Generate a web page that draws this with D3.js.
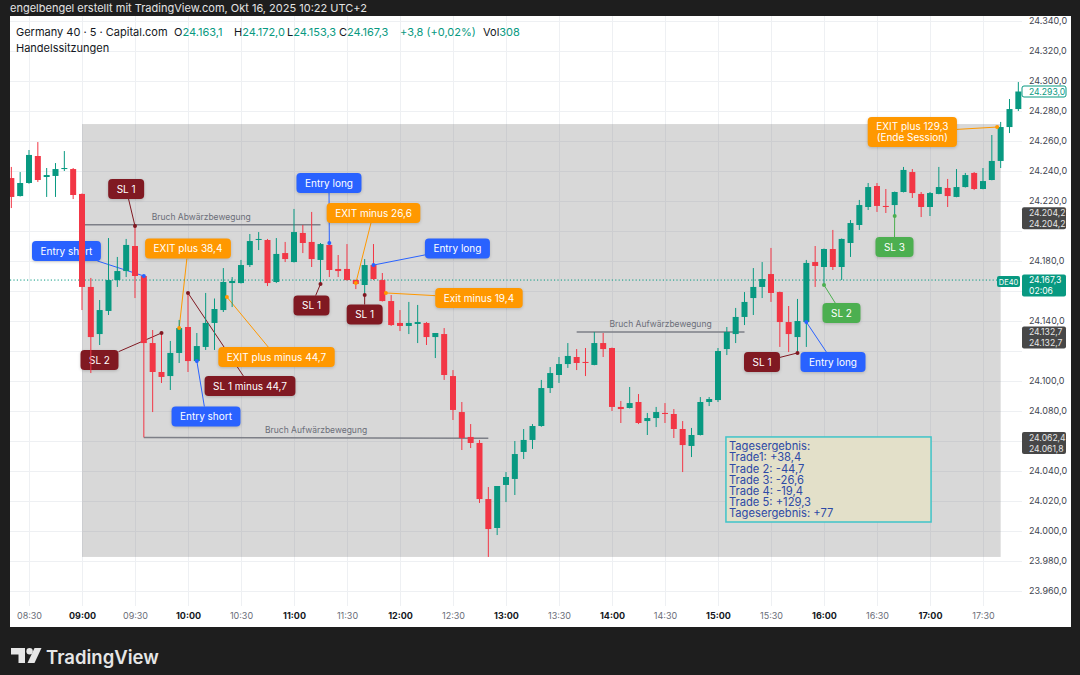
<!DOCTYPE html>
<html><head><meta charset="utf-8">
<script src="https://cdn.jsdelivr.net/npm/d3@7"></script>
<style>
html,body{margin:0;padding:0;background:#1e1e1e;}
svg{display:block;}
text{font-family:Inter,"Noto Sans",Roboto,sans-serif;}
</style></head><body>
<svg id="c" width="1080" height="675"></svg>
<script>
// ---------------- DATA ----------------
const times = ["08:20","08:25","08:30","08:35","08:40","08:45","08:50","08:55",
"09:00","09:05","09:10","09:15","09:20","09:25","09:30","09:35","09:40","09:45","09:50","09:55",
"10:00","10:05","10:10","10:15","10:20","10:25","10:30","10:35","10:40","10:45","10:50","10:55",
"11:00","11:05","11:10","11:15","11:20","11:25","11:30","11:35","11:40","11:45","11:50","11:55",
"12:00","12:05","12:10","12:15","12:20","12:25","12:30","12:35","12:40","12:45","12:50","12:55",
"13:00","13:05","13:10","13:15","13:20","13:25","13:30","13:35","13:40","13:45","13:50","13:55",
"14:00","14:05","14:10","14:15","14:20","14:25","14:30","14:35","14:40","14:45","14:50","14:55",
"15:00","15:05","15:10","15:15","15:20","15:25","15:30","15:35","15:40","15:45","15:50","15:55",
"16:00","16:05","16:10","16:15","16:20","16:25","16:30","16:35","16:40","16:45","16:50","16:55",
"17:00","17:05","17:10","17:15","17:20","17:25","17:30","17:35","17:40","17:45","17:50"];

const open = [24235.3,24223.3,24232.0,24250.0,24236.0,24236.7,24241.3,24241.3,
24224.7,24162.7,24131.3,24146.7,24167.3,24173.3,24190.0,24170.0,24125.3,24106.0,24103.3,24118.7,
24136.0,24113.3,24122.7,24138.7,24147.3,24165.3,24165.3,24177.3,24194.0,24194.0,24166.0,24185.3,
24179.3,24198.7,24192.7,24180.7,24190.7,24174.7,24174.7,24167.3,24164.0,24177.3,24167.3,24153.3,
24138.7,24136.7,24138.0,24138.7,24129.3,24131.3,24103.3,24079.3,24062.7,24058.7,24021.3,24002.0,
24030.7,24034.7,24052.7,24060.7,24070.0,24095.3,24104.0,24111.3,24116.0,24112.7,24110.7,24125.3,
24122.0,24082.7,24082.0,24086.0,24073.3,24075.3,24078.7,24078.0,24068.0,24056.7,24064.0,24086.0,
24087.3,24121.3,24131.3,24142.7,24155.3,24162.7,24171.3,24159.3,24139.3,24129.3,24139.3,24179.3,
24176.0,24188.0,24176.0,24192.0,24204.0,24216.0,24230.0,24216.7,24217.3,24226.0,24239.3,24224.7,
24216.0,24224.7,24228.7,24222.7,24229.3,24238.7,24228.0,24234.0,24246.7,24269.3,24281.3];

const high = [24242.7,24239.3,24254.0,24259.3,24242.0,24245.3,24253.3,24242.0,
24225.0,24168.7,24154.0,24195.3,24182.7,24194.7,24203.3,24170.5,24134.0,24132.0,24126.7,24140.7,
24158.7,24132.0,24158.7,24155.0,24175.3,24169.3,24180.7,24198.0,24199.3,24194.7,24195.3,24192.7,
24214.7,24204.0,24212.7,24192.0,24192.0,24184.0,24191.3,24167.6,24181.3,24191.3,24172.0,24157.3,
24147.3,24152.7,24150.7,24139.3,24132.0,24135.3,24107.3,24086.0,24071.3,24060.7,24029.3,24030.0,
24039.3,24060.0,24068.0,24071.3,24100.7,24109.3,24116.0,24125.3,24121.3,24122.0,24132.7,24132.0,
24122.3,24086.7,24096.0,24091.3,24078.7,24082.7,24085.3,24081.3,24073.3,24068.7,24089.3,24089.3,
24122.0,24136.0,24148.7,24159.3,24175.3,24179.3,24188.7,24159.6,24150.0,24154.7,24180.7,24190.0,
24188.3,24200.7,24195.0,24207.3,24220.7,24232.0,24232.0,24228.0,24226.3,24242.7,24241.3,24226.0,
24226.0,24242.7,24234.7,24241.3,24238.7,24239.3,24242.0,24264.0,24272.7,24288.0,24299.3];

const low = [24215.3,24223.0,24231.5,24232.7,24222.7,24222.7,24240.0,24221.3,
24147.3,24105.3,24124.0,24144.0,24162.7,24169.3,24155.3,24062.4,24079.3,24098.7,24094.0,24112.0,
24106.0,24112.0,24120.7,24120.7,24146.0,24149.3,24165.0,24176.0,24187.3,24163.3,24165.3,24179.3,
24179.0,24185.3,24176.0,24164.7,24169.3,24169.3,24167.0,24161.3,24157.3,24167.3,24153.0,24136.7,
24133.3,24131.3,24125.3,24124.0,24115.3,24100.7,24074.0,24054.0,24055.3,24018.7,23982.7,23997.3,
24019.3,24024.0,24048.0,24054.7,24069.5,24092.0,24098.7,24108.7,24107.3,24103.3,24110.5,24116.0,
24080.0,24072.0,24081.7,24071.3,24064.0,24069.3,24072.0,24062.0,24039.3,24049.3,24063.7,24083.3,
24086.0,24117.3,24125.3,24137.3,24144.0,24155.3,24152.7,24122.7,24119.3,24118.7,24122.7,24162.7,
24164.0,24174.0,24167.3,24182.7,24200.7,24214.0,24212.7,24212.0,24210.0,24225.7,24222.0,24209.3,
24210.0,24224.5,24216.0,24222.5,24229.0,24227.3,24227.8,24233.8,24242.0,24265.3,24280.0];

const close = [24222.7,24232.0,24250.7,24234.0,24237.3,24241.3,24242.0,24224.0,
24162.7,24129.3,24147.3,24167.3,24173.3,24190.7,24170.0,24125.3,24106.0,24102.7,24118.7,24135.3,
24113.3,24123.3,24138.7,24148.0,24166.0,24166.7,24177.3,24193.3,24194.7,24165.3,24184.7,24181.3,
24199.3,24192.0,24181.3,24191.3,24174.0,24173.3,24167.3,24164.7,24177.3,24168.0,24153.3,24137.3,
24136.7,24138.7,24139.3,24129.3,24132.0,24104.0,24080.7,24062.0,24058.7,24021.3,24001.3,24030.0,
24036.0,24051.3,24060.7,24070.0,24095.3,24105.3,24111.3,24116.7,24112.0,24112.0,24125.3,24121.3,
24082.7,24081.3,24085.3,24072.0,24075.3,24079.3,24078.0,24068.0,24057.3,24064.0,24086.0,24088.0,
24120.0,24132.7,24142.7,24152.7,24162.7,24168.0,24158.7,24139.3,24131.3,24140.0,24178.7,24176.7,
24188.0,24176.0,24194.7,24205.3,24217.3,24229.3,24216.7,24216.0,24226.0,24240.7,24225.3,24216.0,
24225.3,24229.3,24223.3,24229.3,24237.3,24228.0,24233.3,24246.7,24269.3,24281.3,24293.0];

const priceTicks = [23960,23980,24000,24020,24040,24060,24080,24100,24120,24140,24160,24180,24200,24220,24240,24260,24280,24300,24320,24340];
const timeTicks = ["08:30","09:00","09:30","10:00","10:30","11:00","11:30","12:00","12:30","13:00","13:30","14:00","14:30","15:00","15:30","16:00","16:30","17:00","17:30"];

const lastPrice = 24167.3;
const session = {start:"09:00", end:"17:40", top:24271.3, bottom:23982.7};

// horizontal trend lines (minutes from 09:00)
const hlines = [
  {t:"Bruch Abwärzbewegung",  m1:0,   m2:135, p1:24204.2, p2:24204.2},
  {t:"Bruch Aufwärzbewegung", m1:35,  m2:230, p1:24062.4, p2:24061.8},
  {t:"Bruch Aufwärzbewegung", m1:280, m2:375, p1:24132.7, p2:24132.7}
];

// callouts: box centre (bm minutes, bp price), anchor (am, ap)
const callouts = [
  {t:"SL 1", k:"sl", bm:25, bp:24228, am:30, ap:24203.3},
  {t:"Entry short", k:"entry", bm:-8.8, bp:24186.7, am:35, ap:24170.0},
  {t:"EXIT plus 38,4", k:"exit", bm:60, bp:24188.3, am:55, ap:24135.3},
  {t:"SL 2", k:"sl", bm:9.9, bp:24114, am:45, ap:24132.0},
  {t:"SL 1 minus 44,7", k:"sl", bm:95.1, bp:24096.7, am:60, ap:24158.7},
  {t:"EXIT plus minus 44,7", k:"exit", bm:110.1, bp:24116, am:82, ap:24156},
  {t:"Entry short", k:"entry", bm:70.2, bp:24076.3, am:65, ap:24113.3},
  {t:"Entry long", k:"entry", bm:139.8, bp:24232, am:140, ap:24192},
  {t:"EXIT minus 26,6", k:"exit", bm:165, bp:24212, am:155, ap:24165.3},
  {t:"SL 1", k:"sl", bm:129.9, bp:24150.3, am:135, ap:24164.7},
  {t:"SL 1", k:"sl", bm:160, bp:24144.3, am:160, ap:24157.3},
  {t:"Entry long", k:"entry", bm:212.5, bp:24188.3, am:165, ap:24177.3},
  {t:"Exit minus 19,4", k:"exit", bm:224.7, bp:24155.3, am:172, ap:24158.7},
  {t:"SL 1", k:"sl", bm:384.9, bp:24112.7, am:405, ap:24118.7},
  {t:"Entry long", k:"entry", bm:425.1, bp:24112.7, am:410, ap:24139.3},
  {t:"SL 2", k:"tp", bm:429.9, bp:24145.3, am:420, ap:24164},
  {t:"SL 3", k:"tp", bm:459.9, bp:24189.3, am:460, ap:24210},
  {t:"EXIT plus 129,3|(Ende Session)", k:"exit", bm:470, bp:24266, am:518, ap:24269.3}
];

const resultLines = ["Tagesergebnis:","Trade1: +38,4","Trade 2: -44,7","Trade 3: -26,6","Trade 4: -19,4","Trade 5: +129,3","Tagesergebnis: +77"];
const resultBox = {m1:364.5, m2:480.6, p1:24062.7, p2:24006.0};

const axisBadges = [
  {lines:["24.293,0"], p:24293.0, k:"outline"},
  {lines:["24.204,2","24.204,2"], p:24212.2, k:"dark"},
  {lines:["24.167,3","02:06"], p:24167.3, k:"green"},
  {lines:["24.132,7","24.132,7"], p:24132.7, k:"dark"},
  {lines:["24.062,4","24.061,8"], p:24062.4, k:"dark"}
];

// ---------------- STYLES ----------------
const UP="#089981", DOWN="#f23645";
const KCOL={sl:"#801922", entry:"#2962ff", exit:"#ff9800", tp:"#4caf50"};
const AXF = "Roboto,'Liberation Sans',sans-serif";

// ---------------- SCALES ----------------
const parse = s => { const [h,m]=s.split(":").map(Number); return new Date(2025,9,16,h,m); };
const x = d3.scaleTime().domain([parse("08:20"),parse("17:50")]).range([11.33,1018.33]);
const y = d3.scaleLinear().domain([23960,24340]).range([591,21]);
const base = parse("09:00");
const tx = m => x(new Date(base.getTime()+m*60000));
const loc = d3.formatLocale({decimal:",",thousands:".",grouping:[3],currency:["",""]});
const fmt = loc.format(",.1f");

const svg = d3.select("#c");
svg.append("rect").attr("width",1080).attr("height",675).attr("fill","#1e1e1e");
svg.append("rect").attr("x",10).attr("y",16).attr("width",1061).attr("height",611).attr("fill","#ffffff");

svg.append("text").attr("x",10).attr("y",12).attr("fill","#e4e4e4").attr("font-size",11)
  .text("engelbengel erstellt mit TradingView.com, Okt 16, 2025 10:22 UTC+2");

const defs = svg.append("defs");
defs.append("clipPath").attr("id","plot").append("rect").attr("x",10).attr("y",16).attr("width",1012).attr("height",590);

const plot = svg.append("g").attr("clip-path","url(#plot)");

// grid
plot.append("g").selectAll("line").data(priceTicks).join("line")
  .attr("x1",10).attr("x2",1022).attr("y1",d=>Math.round(y(d))+0.5).attr("y2",d=>Math.round(y(d))+0.5)
  .attr("stroke","#eef0f3");
plot.append("g").selectAll("line").data(timeTicks).join("line")
  .attr("y1",16).attr("y2",606).attr("x1",d=>Math.round(x(parse(d)))+0.5).attr("x2",d=>Math.round(x(parse(d)))+0.5)
  .attr("stroke","#eef0f3");

// session shading
plot.append("rect").attr("x",x(parse(session.start))).attr("y",y(session.top))
  .attr("width",x(parse(session.end))-x(parse(session.start))).attr("height",y(session.bottom)-y(session.top))
  .attr("fill","#808080").attr("fill-opacity",0.31);

// trend lines
hlines.forEach(h=>{
  plot.append("line").attr("x1",tx(h.m1)).attr("x2",tx(h.m2)).attr("y1",y(h.p1)).attr("y2",y(h.p2))
    .attr("stroke","#7d7f87").attr("stroke-width",1.5);
  plot.append("text").attr("x",(tx(h.m1)+tx(h.m2))/2).attr("y",(y(h.p1)+y(h.p2))/2-5)
    .attr("text-anchor","middle").attr("font-size",8.5).attr("fill","#6b6e78").text(h.t);
});

// result box
plot.append("rect").attr("x",tx(resultBox.m1)).attr("y",y(resultBox.p1))
  .attr("width",tx(resultBox.m2)-tx(resultBox.m1)).attr("height",y(resultBox.p2)-y(resultBox.p1))
  .attr("fill","#e3e0c9").attr("stroke","#3fc3c9").attr("stroke-width",1.5);
plot.append("g").selectAll("text").data(resultLines).join("text")
  .attr("x",tx(resultBox.m1)+3).attr("y",(d,i)=>y(resultBox.p1)+13.2+i*11.2)
  .attr("font-size",11.2).attr("fill","#2e4aa6").text(d=>d);

// callouts (boxes + connectors)
const cg = plot.append("g");
const dots = [];
callouts.forEach(c=>{
  const col = KCOL[c.k];
  const lines = c.t.split("|");
  const g = cg.append("g");
  const cx = tx(c.bm), cy = y(c.bp);
  const tt = g.selectAll("text").data(lines).join("text").attr("font-size",10).attr("fill","#ffffff")
    .attr("text-anchor","middle").text(d=>d);
  let w = 0; tt.each(function(){ w = Math.max(w,this.getComputedTextLength()); });
  const bw = w+17, bh = lines.length>1 ? 30 : 20;
  const ax = tx(c.am), ay = y(c.ap);
  const dx = ax-cx, dy = ay-cy;
  const t = Math.min(Math.abs(dx)>0? (bw/2)/Math.abs(dx):1e9, Math.abs(dy)>0?(bh/2)/Math.abs(dy):1e9);
  g.insert("line","text").attr("x1",cx+dx*t).attr("y1",cy+dy*t).attr("x2",ax).attr("y2",ay).attr("stroke",col).attr("stroke-width",1);
  g.insert("rect","text").attr("x",cx-bw/2).attr("y",cy-bh/2).attr("width",bw).attr("height",bh).attr("rx",4)
    .attr("fill",col).style("filter","drop-shadow(0px 1px 1.5px rgba(0,0,0,0.18))");
  tt.attr("x",cx).attr("y",(d,i)=>cy-bh/2+ (lines.length>1? 12.5+i*11 : 13.6));
  dots.push({x:ax,y:ay,col});
});

// last price dotted line
plot.append("line").attr("x1",10).attr("x2",997).attr("y1",y(lastPrice)).attr("y2",y(lastPrice))
  .attr("stroke",UP).attr("stroke-dasharray","1.2,2.2").attr("stroke-width",1);

// candles
const data = times.map((t,i)=>({t:parse(t),o:open[i],h:high[i],l:low[i],c:close[i]}));
const cndl = plot.append("g");
cndl.selectAll("line").data(data).join("line")
  .attr("x1",d=>x(d.t)).attr("x2",d=>x(d.t)).attr("y1",d=>y(d.h)).attr("y2",d=>y(d.l))
  .attr("stroke",d=>d.c>=d.o?UP:DOWN).attr("stroke-width",1);
cndl.selectAll("rect").data(data).join("rect")
  .attr("x",d=>x(d.t)-3).attr("width",6)
  .attr("y",d=>y(Math.max(d.o,d.c))).attr("height",d=>Math.max(1,Math.abs(y(d.o)-y(d.c))))
  .attr("fill",d=>d.c>=d.o?UP:DOWN);

// anchor dots
plot.append("g").selectAll("circle").data(dots).join("circle")
  .attr("cx",d=>d.x).attr("cy",d=>d.y).attr("r",2).attr("fill",d=>d.col);

// DE40 tag
plot.append("rect").attr("x",997).attr("y",y(lastPrice)-4).attr("width",23).attr("height",11).attr("rx",2).attr("fill",UP);
plot.append("text").attr("x",1008.5).attr("y",y(lastPrice)+4.6).attr("text-anchor","middle").attr("font-size",7.5).attr("fill","#fff").text("DE40");

// axes
const xa = svg.append("g").attr("transform","translate(0,606)")
  .call(d3.axisBottom(x).tickValues(timeTicks.map(parse)).tickFormat(d3.timeFormat("%H:%M")).tickSize(0).tickPadding(7));
xa.select(".domain").remove();
xa.selectAll("text").attr("font-family",AXF).attr("font-size",9)
  .attr("fill",d=>d.getMinutes()===0?"#131722":"#6a6d78").attr("font-weight",d=>d.getMinutes()===0?700:400);

// badge extents (to hide covered tick labels)
const badgeRanges = axisBadges.map(b=>[y(b.p)-5.5, y(b.p)-5.5+b.lines.length*11]);
const visiblePriceTicks = priceTicks.filter(p=>{
  const yy = y(p);
  return !badgeRanges.some(([a,b])=> yy+4 > a && yy-4 < b);
});
const ya = svg.append("g").attr("transform","translate(1029,0)")
  .call(d3.axisRight(y).tickValues(visiblePriceTicks).tickFormat(fmt).tickSize(0).tickPadding(0));
ya.select(".domain").remove();
ya.selectAll("text").attr("font-family",AXF).attr("font-size",9).attr("fill","#42454f");

// axis badges
axisBadges.forEach(b=>{
  const top = y(b.p)-5.5, h = b.lines.length*11;
  const fill = b.k==="dark"?"#474747":(b.k==="green"?UP:"#ffffff");
  svg.append("rect").attr("x",1022).attr("y",top).attr("width",44).attr("height",h).attr("rx",2)
    .attr("fill",fill).attr("stroke",b.k==="outline"?UP:"none");
  b.lines.forEach((l,i)=>{
    svg.append("text").attr("x",1029).attr("y",top+8.6+i*11).attr("font-size",8.6).attr("font-family",AXF)
      .attr("fill",b.k==="outline"?UP:(b.k==="dark"?"#e6e6e6":"#ffffff")).text(l);
  });
});

// header legend
const hd = svg.append("text").attr("y",36).attr("font-size",11).attr("fill","#131722");
hd.append("tspan").attr("x",16).text("Germany 40 · 5 · Capital.com");
[["O","24.163,1",174],["H","24.172,0",234],["L","24.153,3",287],["C","24.167,3",339]].forEach(([k,v,px])=>{
  hd.append("tspan").attr("x",px).text(k);
  hd.append("tspan").attr("fill",UP).text(v);
});
hd.append("tspan").attr("x",400).attr("fill",UP).text("+3,8 (+0,02%)");
hd.append("tspan").attr("x",483).text("Vol");
hd.append("tspan").attr("fill",UP).text("308");
svg.append("text").attr("x",16).attr("y",51.5).attr("font-size",11).attr("fill","#131722").text("Handelssitzungen");

// TradingView logo
const lg = svg.append("g").attr("fill","#e6e6e6");
lg.append("path").attr("d","M11,648 H25 V663 H18.5 V654.5 H11 Z");
lg.append("circle").attr("cx",29.6).attr("cy",651.3).attr("r",3.2);
lg.append("path").attr("d","M34.5,648 H41.5 L34.5,663 H27.5 Z");
svg.append("text").attr("x",46).attr("y",664).attr("font-size",18.5).attr("font-weight",600).attr("fill","#e6e6e6").text("TradingView");
</script>
</body></html>
